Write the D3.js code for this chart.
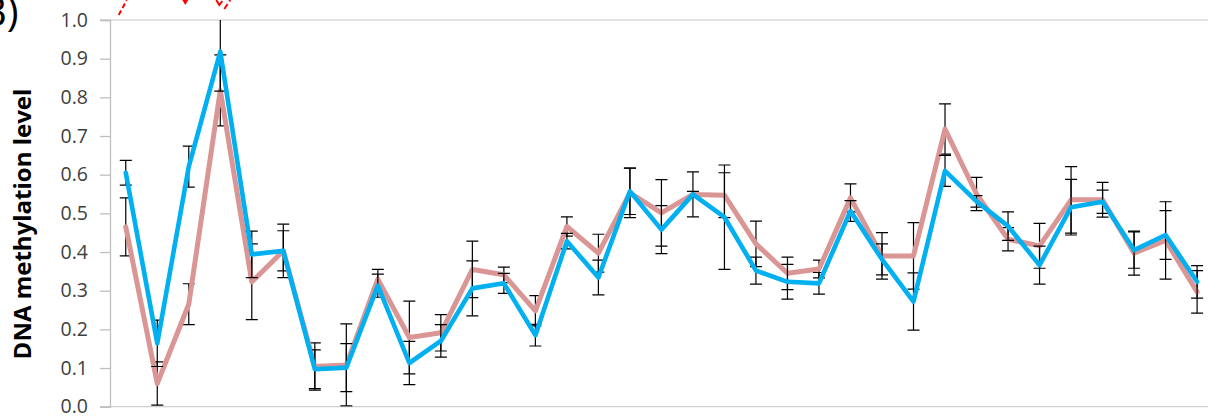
<!DOCTYPE html>
<html>
<head>
<meta charset="utf-8">
<script src="https://cdn.jsdelivr.net/npm/d3@7"></script>
<style>
  html, body { margin: 0; padding: 0; background: #fff; }
  svg { display: block; }
</style>
</head>
<body>
<svg id="chart" width="1208" height="416"></svg>
<script>
// ---- data ----
const categories = d3.range(1, 36).map(String);
const pinkValues = [0.465, 0.060, 0.265, 0.818, 0.323, 0.403, 0.104, 0.108, 0.330, 0.179,
                    0.191, 0.355, 0.341, 0.248, 0.466, 0.397, 0.553, 0.501, 0.549, 0.547,
                    0.421, 0.345, 0.356, 0.540, 0.390, 0.390, 0.718, 0.550, 0.433, 0.416,
                    0.535, 0.535, 0.397, 0.430, 0.297];
const pinkErrors = [0.075, 0.056, 0.053, 0.092, 0.098, 0.052, 0.061, 0.106, 0.025, 0.094,
                    0.047, 0.073, 0.020, 0.039, 0.025, 0.049, 0.064, 0.086, 0.008, 0.058,
                    0.059, 0.042, 0.023, 0.036, 0.060, 0.086, 0.065, 0.043, 0.030, 0.058,
                    0.086, 0.045, 0.057, 0.100, 0.055];
const blueValues = [0.605, 0.164, 0.621, 0.918, 0.394, 0.403, 0.097, 0.101, 0.313, 0.113,
                    0.170, 0.306, 0.319, 0.185, 0.428, 0.334, 0.557, 0.458, 0.549, 0.490,
                    0.352, 0.323, 0.319, 0.506, 0.381, 0.272, 0.610, 0.531, 0.467, 0.366,
                    0.516, 0.530, 0.405, 0.444, 0.323];
const blueErrors = [0.032, 0.060, 0.053, 0.102, 0.060, 0.069, 0.050, 0.062, 0.030, 0.056,
                    0.042, 0.071, 0.026, 0.028, 0.020, 0.045, 0.060, 0.062, 0.058, 0.135,
                    0.035, 0.045, 0.028, 0.027, 0.040, 0.074, 0.040, 0.015, 0.037, 0.049,
                    0.072, 0.030, 0.047, 0.063, 0.042];
const yTicks = [0, 0.1, 0.2, 0.3, 0.4, 0.5, 0.6, 0.7, 0.8, 0.9, 1.0];
const yLabel = "DNA methylation level";
const panelLabel = "B)";

(function () {
// ---- layout ----
const svg = d3.select("#chart");
const mLeft = 110, mTop = 20, mBottom = 406.7;
const bandW = 31.51;
const x = d3.scaleBand().domain(categories).range([mLeft, mLeft + bandW * categories.length]).padding(0);
const cx = c => x(c) + x.bandwidth() / 2;
const y = d3.scaleLinear().domain([0, 1]).range([mBottom, mTop]);

svg.append("rect").attr("width", 1208).attr("height", 416).attr("fill", "#fff");

svg.append("defs").append("clipPath").attr("id", "plot")
  .append("rect").attr("x", mLeft - 8).attr("y", mTop).attr("width", 1208 - mLeft + 8).attr("height", mBottom - mTop);

// top border line at 1.0
svg.append("line")
  .attr("x1", mLeft - 10).attr("x2", 1208)
  .attr("y1", y(1)).attr("y2", y(1))
  .attr("stroke", "#d9d9d9").attr("stroke-width", 1.3);

// bottom axis line
svg.append("line")
  .attr("x1", mLeft - 10).attr("x2", 1208)
  .attr("y1", y(0)).attr("y2", y(0))
  .attr("stroke", "#d0d0d0").attr("stroke-width", 1.3);

// y axis
const yAxis = d3.axisLeft(y).tickValues(yTicks).tickFormat(d3.format(".1f")).tickSize(10).tickPadding(12);
const gy = svg.append("g").attr("transform", `translate(${mLeft},0)`).call(yAxis);
gy.select(".domain").attr("stroke", "#bfbfbf").attr("stroke-width", 1.3);
gy.selectAll(".tick line").attr("stroke", "#bfbfbf").attr("stroke-width", 1.3);
gy.selectAll(".tick text")
  .attr("fill", "#404040")
  .style("font-family", "'Open Sans', Lato, sans-serif")
  .style("font-size", "19.5px");

// y label
svg.append("text")
  .attr("transform", `translate(31,${(88 + 360) / 2}) rotate(-90)`)
  .attr("text-anchor", "middle")
  .style("font-family", "'Open Sans', Lato, sans-serif")
  .style("font-weight", "bold")
  .style("font-size", "24px")
  .attr("fill", "#000")
  .text(yLabel);

// panel label (partially cut at the left edge, as in the reference)
svg.append("text")
  .attr("x", -19).attr("y", 26)
  .style("font-family", "'Open Sans', Lato, sans-serif")
  .style("font-size", "40px")
  .attr("fill", "#000")
  .text(panelLabel);

// red dashed annotation arrows (cut at top)
const ann = svg.append("g").attr("stroke", "#ff0000").attr("fill", "none").attr("stroke-width", 2);
ann.append("line").attr("x1", cx(categories[0]) - 7).attr("y1", 15).attr("x2", cx(categories[0]) + 1).attr("y2", 0)
  .attr("stroke-dasharray", "5,3");
ann.append("path").attr("fill", "#ff0000").attr("stroke", "none")
  .attr("d", `M${cx(categories[2]) - 6.5},0 L${cx(categories[2]) - 0.5},0 L${cx(categories[2]) - 3.5},5 Z`);
ann.append("path").attr("fill", "none")
  .attr("d", `M${cx(categories[3]) - 4},0 L${cx(categories[3]) - 1},5 L${cx(categories[3]) + 2},1`);
ann.append("line").attr("x1", cx(categories[3]) + 4).attr("y1", 9).attr("x2", cx(categories[3]) + 10).attr("y2", 0)
  .attr("stroke-dasharray", "6,3");

const plot = svg.append("g").attr("clip-path", "url(#plot)");

function drawErrors(values, errors) {
  const g = plot.append("g").attr("stroke", "#000").attr("stroke-width", 1.2);
  categories.forEach((c, i) => {
    const hi = Math.min(1.02, values[i] + errors[i]);
    const lo = values[i] - errors[i];
    const X = cx(c);
    g.append("line").attr("x1", X).attr("x2", X).attr("y1", y(hi)).attr("y2", y(lo));
    g.append("line").attr("x1", X - 6).attr("x2", X + 6).attr("y1", y(hi)).attr("y2", y(hi));
    g.append("line").attr("x1", X - 6).attr("x2", X + 6).attr("y1", y(lo)).attr("y2", y(lo));
  });
}

const line = d3.line().x((d, i) => cx(categories[i])).y(d => y(d));

drawErrors(pinkValues, pinkErrors);
plot.append("path").datum(pinkValues).attr("d", line)
  .attr("fill", "none").attr("stroke", "#d99694").attr("stroke-width", 5)
  .attr("stroke-linejoin", "round").attr("stroke-linecap", "round");

drawErrors(blueValues, blueErrors);
plot.append("path").datum(blueValues).attr("d", line)
  .attr("fill", "none").attr("stroke", "#00b0f0").attr("stroke-width", 4.6)
  .attr("stroke-linejoin", "round").attr("stroke-linecap", "round");
})();
</script>
</body>
</html>
